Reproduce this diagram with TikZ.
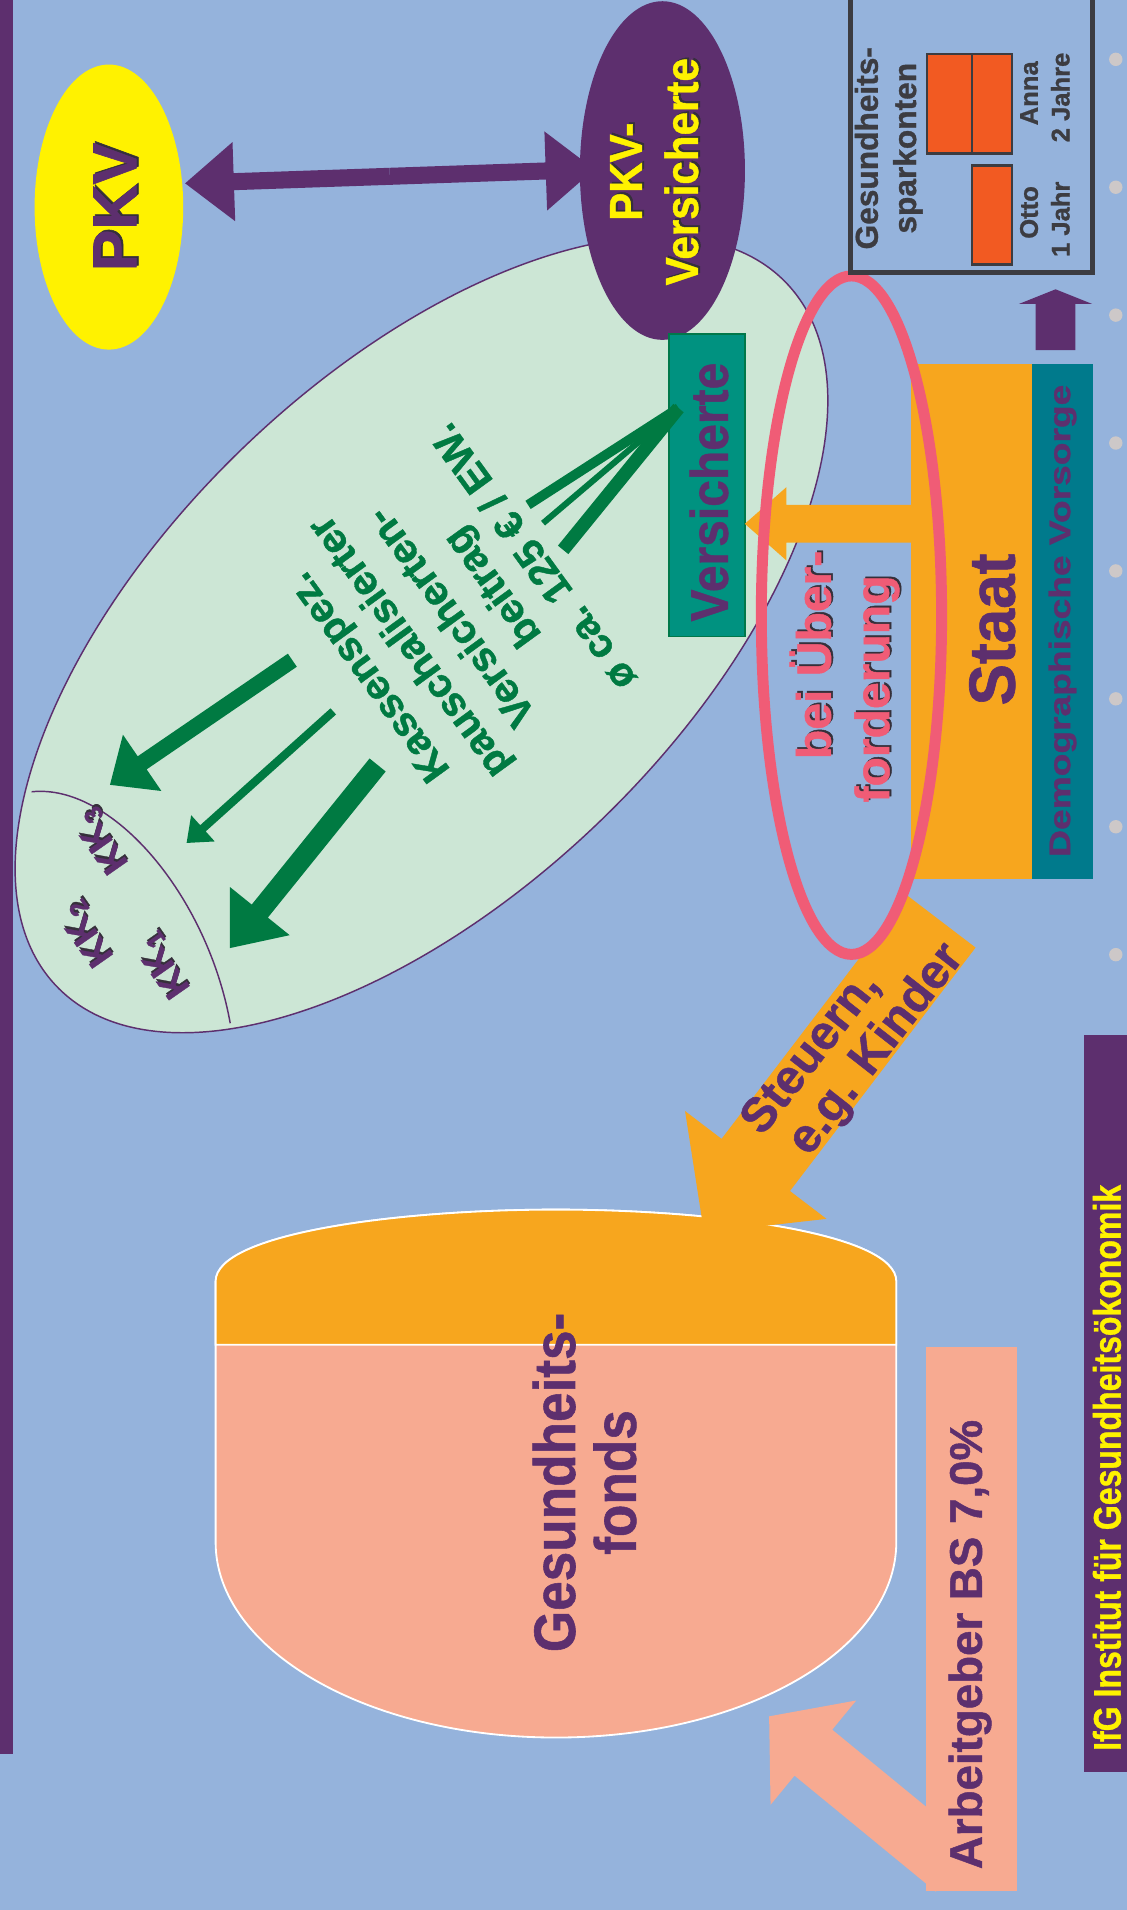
\documentclass[tikz,border=0pt]{standalone}
\usepackage{fontspec}
\setmainfont{Liberation Sans}[BoldFeatures={FakeBold=1}]
\usetikzlibrary{calc,positioning,shapes.geometric}
\definecolor{bgblue}{HTML}{95B3DC}
\definecolor{ifgpurple}{HTML}{5D2F6E}
\definecolor{pkvyellow}{HTML}{FFF200}
\definecolor{kkgreen}{HTML}{CCE6D5}
\definecolor{versteal}{HTML}{009280}
\definecolor{versedge}{HTML}{00784A}
\definecolor{arrowgreen}{HTML}{007A42}
\definecolor{staatorange}{HTML}{F7A61E}
\definecolor{demoteal}{HTML}{007A8C}
\definecolor{ringpink}{HTML}{F05C76}
\definecolor{agsalmon}{HTML}{F7AA91}
\definecolor{barorange}{HTML}{F25A22}
\definecolor{boxgray}{HTML}{3C3C41}
\definecolor{dotgray}{HTML}{CDC8C8}
\definecolor{shadowgray}{HTML}{35303A}
\newcommand\fs[2]{\fontsize{#1pt}{#2pt}\selectfont}
% text with a dark shadow behind it
\newcommand\shadowtext[1]{\rlap{\kern1.5pt\raisebox{-1.5pt}{\color{shadowgray}#1}}#1}
% fat arrow: [style]{from}{to}{half shaft}{half head}{head length}
\newcommand\fatarrow[6][]{%
  \fill[#1] ($(#2)!#4!90:(#3)$)
    -- ($($(#3)!#6!(#2)$)!#4!90:(#3)$)
    -- ($($(#3)!#6!(#2)$)!#5!90:(#3)$)
    -- (#3)
    -- ($($(#3)!#6!(#2)$)!#5!-90:(#3)$)
    -- ($($(#3)!#6!(#2)$)!#4!-90:(#3)$)
    -- ($(#2)!#4!-90:(#3)$) -- cycle;}
\tikzset{
  txt/.style={inner sep=0pt, outer sep=0pt},
  vtxt/.style={txt, rotate=90, anchor=base},
  plate/.style={rectangle, inner sep=0pt, outer sep=0pt},
}
\begin{document}
\begin{tikzpicture}[x=1pt, y=-1pt]
  \useasboundingbox (0,0) rectangle (925,1568);
  \fill[bgblue] (0,0) rectangle (925,1568);
  \fill[ifgpurple] (0,0) rectangle (10.5,1440);
  \node[plate, fill=ifgpurple, minimum width=35pt, minimum height=604.5pt] (ifgbar) at (907.5,1152.25) {};
  \foreach \k in {0,...,7}
    \fill[dotgray] (916,{48.7+105*\k}) circle[radius=5.5pt];

  % Gesundheitsfonds
  \filldraw[fill=agsalmon, draw=white, line width=1.5pt] (177,1052)
    .. controls (177,1012) and (330,993) .. (456.4,993)
    .. controls (583,993) and (735.8,1012) .. (735.8,1052) -- (735.8,1266)
    arc[start angle=0, end angle=-180, x radius=279.4pt, y radius=160.4pt] -- cycle;
  \filldraw[fill=staatorange, draw=white, line width=1.5pt] (177,1104) -- (177,1052)
    .. controls (177,1012) and (330,993) .. (456.4,993)
    .. controls (583,993) and (735.8,1012) .. (735.8,1052) -- (735.8,1104) -- cycle;
  \node[vtxt, yscale=1.1, text=ifgpurple, font=\bfseries\fs{43.6}{50}] (gesT) at (472,1217) {Gesundheits-};
  \node[vtxt, yscale=1.1, text=ifgpurple, font=\bfseries\fs{43.6}{50}] (fondsT) at (522,1217) {fonds};

  % Steuern arrow
  \coordinate (steuerStart) at (772.8,756.5);
  \coordinate (steuerTip) at (578,1012);
  \fatarrow[fill=staatorange]{steuerStart}{steuerTip}{35.3pt}{73pt}{70pt}
  \node[txt, rotate=52, text=ifgpurple, font=\bfseries\fs{39.5}{46}] (steuerA) at (666,864.5) {Steuern,};
  \node[txt, rotate=52, text=ifgpurple, font=\bfseries\fs{39.5}{46}] (steuerB) at (720,862) {e.g. Kinder};

  % Krankenkassen
  \filldraw[fill=kkgreen, draw=ifgpurple, line width=1.2pt, rotate around={44:(346,521)}]
    (346,521) ellipse[x radius=416pt, y radius=212pt];
  \draw[ifgpurple, line width=1.2pt] (26,650) .. controls (92,643) and (170,735) .. (189,840);
  \node[txt, rotate=125, text=ifgpurple, font=\bfseries\fs{30}{34}] (kk1T) at (135.4,792) {\shadowtext{KK\textsubscript{1}}};
  \node[txt, rotate=125, text=ifgpurple, font=\bfseries\fs{30}{34}] (kk2T) at (72.5,766) {\shadowtext{KK\textsubscript{2}}};
  \node[txt, rotate=125, text=ifgpurple, font=\bfseries\fs{30}{34}] (kk3T) at (84.7,689.6) {\shadowtext{KK\textsubscript{3}}};

  % PKV
  \coordinate (pkvArrow) at (152,150.5);
  \coordinate (pkvvArrow) at (488,139);
  \coordinate (pkvMid) at ($(pkvArrow)!0.5!(pkvvArrow)$);
  \fatarrow[fill=ifgpurple]{pkvMid}{pkvArrow}{7pt}{32.5pt}{40pt}
  \fatarrow[fill=ifgpurple]{pkvMid}{pkvvArrow}{7pt}{32.5pt}{40pt}
  \node[ellipse, fill=pkvyellow, minimum width=122pt, minimum height=234pt, inner sep=0pt] (pkv) at (89.4,170) {};
  \node[ellipse, fill=ifgpurple, minimum width=135.5pt, minimum height=278pt, inner sep=0pt] (pkvv) at (543.8,140) {};
  \node[vtxt, text=ifgpurple, font=\bfseries\fs{51.3}{60}] (pkvT) at (112,170) {\shadowtext{PKV}};
  \node[vtxt, yscale=1.1, text=pkvyellow, font=\bfseries\fs{34.5}{40}] (pkvvA) at (527,141) {\shadowtext{PKV-}};
  \node[vtxt, yscale=1.1, text=pkvyellow, font=\bfseries\fs{34.6}{40}] (pkvvB) at (573,141) {\shadowtext{Versicherte}};

  % Versicherte and their contributions
  \node[plate, fill=versteal, draw=versedge, line width=1.5pt, minimum width=62pt, minimum height=248pt] (vers) at (580.5,398.5) {};
  \node[vtxt, yscale=1.1, text=ifgpurple, font=\bfseries\fs{39.4}{45}] (versT) at (597.5,404) {Versicherte};
  \coordinate (fan) at (557,335);
  \foreach \w/\p in {8/{433.5,414.5}, 5/{445.8,429.5}, 11/{462.3,451.4}}
    \draw[arrowgreen, line width=\w pt] (fan) -- (\p);
  \node[txt, rotate=126, align=center, text=arrowgreen, font=\bfseries\fs{33.5}{42}] (beitragT) at (369.5,507)
    {Kassenspez.\\pauschalisierter\\Versicherten-\\beitrag\\ø ca. 125 € / EW.};
  \coordinate (kkFromA) at (240,542);
  \coordinate (kkToA) at (90.3,644.3);
  \coordinate (kkFromB) at (273.6,584);
  \coordinate (kkToB) at (153.2,692);
  \coordinate (kkFromC) at (310,628);
  \coordinate (kkToC) at (188.8,778.3);
  \fatarrow[fill=arrowgreen]{kkFromA}{kkToA}{6.5pt}{28pt}{32pt}
  \fatarrow[fill=arrowgreen]{kkFromB}{kkToB}{3.4pt}{14.5pt}{18pt}
  \fatarrow[fill=arrowgreen]{kkFromC}{kkToC}{8.5pt}{31.5pt}{39pt}

  % Staat
  \node[plate, fill=staatorange, minimum width=99pt, minimum height=423pt] (staat) at (797.5,510.4) {};
  \node[plate, fill=demoteal, minimum width=50pt, minimum height=423pt, right=0pt of staat] (demo) {};
  \node[vtxt, yscale=1.05, text=ifgpurple, font=\bfseries\fs{51}{60}] (staatT) at (833,516.8) {Staat};
  \node[vtxt, yscale=0.8, text=ifgpurple, font=\bfseries\fs{30.5}{36}] (demoT) at (878.5,509.6) {Demographische Vorsorge};
  \coordinate (staatArrow) at (748,430);
  \coordinate (versArrow) at (vers.east |- staatArrow);
  \fatarrow[fill=staatorange]{staatArrow}{versArrow}{15.5pt}{30pt}{34pt}

  % bei Ueberforderung
  \node[ellipse, draw=ringpink, line width=9pt, minimum width=148pt, minimum height=557pt, inner sep=0pt] (ring) at (699,505) {};
  \node[vtxt, text=ringpink, font=\bfseries\fs{39.5}{46}] (beiT) at (682,537.6) {\shadowtext{bei Über-}};
  \node[vtxt, text=ringpink, font=\bfseries\fs{39.5}{46}] (fordT) at (730,565.6) {\shadowtext{forderung}};

  % Arbeitgeber
  \node[plate, fill=agsalmon, minimum width=75pt, minimum height=446pt] (ag) at (797.5,1329) {};
  \coordinate (agStart) at (783.7,1534);
  \coordinate (agTip) at (631.4,1409);
  \fatarrow[fill=agsalmon]{agStart}{agTip}{24.4pt}{55.4pt}{47pt}
  \node[vtxt, text=ifgpurple, font=\bfseries\fs{37.5}{44}] (agT) at (806,1350) {Arbeitgeber BS 7,0\%};

  % Gesundheitssparkonten
  \node[plate, draw=boxgray, line width=4pt, minimum width=199pt, minimum height=240pt] (spbox) at (797.5,104) {};
  \draw[fill=barorange, draw=boxgray, line width=2pt] (761,44.3) rectangle (798,126)
    (798,44.3) rectangle (831,126) (798,136) rectangle (831,217);
  \node[vtxt, text=boxgray, font=\bfseries\fs{26}{30}] (spA) at (720.6,121.7) {Gesundheits-};
  \node[vtxt, text=boxgray, font=\bfseries\fs{26}{30}] (spB) at (752,121.7) {sparkonten};
  \node[vtxt, text=boxgray, font=\bfseries\fs{21}{25}] (annaT) at (852,76.6) {Anna};
  \node[vtxt, text=boxgray, font=\bfseries\fs{21}{25}] (annaY) at (878,80) {2 Jahre};
  \node[vtxt, text=boxgray, font=\bfseries\fs{21}{25}] (ottoT) at (852,174.4) {Otto};
  \node[vtxt, text=boxgray, font=\bfseries\fs{21}{25}] (ottoY) at (878,180) {1 Jahr};
  \coordinate (upStart) at (866.5,287.5);
  \coordinate (upTip) at (866.5,237.5);
  \fatarrow[fill=ifgpurple]{upStart}{upTip}{16.3pt}{30pt}{12pt}

  \node[vtxt, yscale=1.2, text=pkvyellow, font=\bfseries\fs{26.3}{30}] (ifgT) at (920,1205) {IfG Institut für Gesundheitsökonomik};
\end{tikzpicture}
\end{document}
